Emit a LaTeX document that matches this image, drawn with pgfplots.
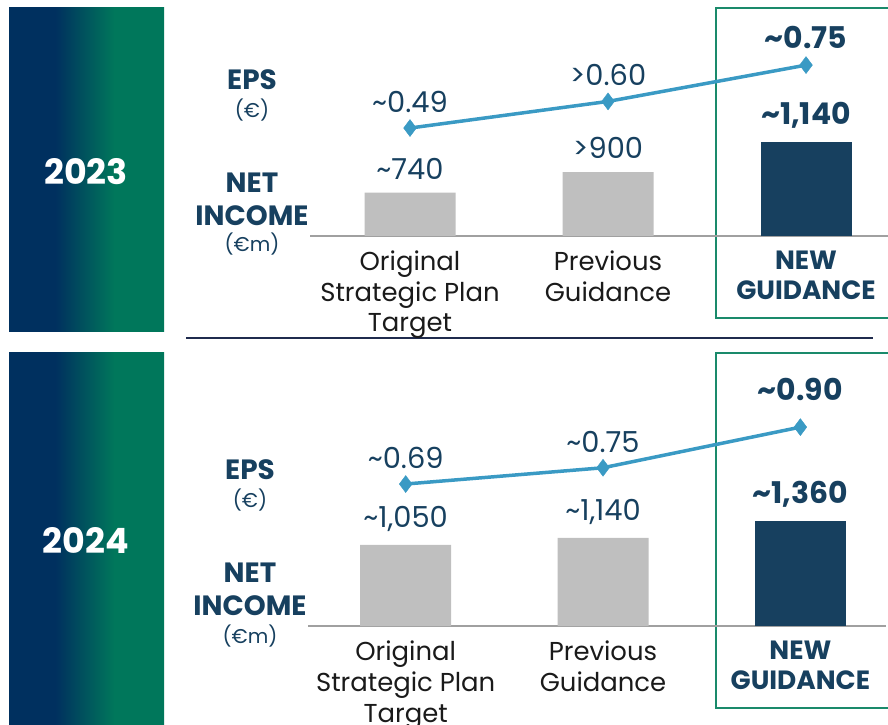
\documentclass[border=0pt]{standalone}
\usepackage{fontspec}
\setmainfont{Poppins}
\usepackage{pgfplots}
\pgfplotsset{compat=1.18}

\definecolor{navy}{HTML}{17405F}
\definecolor{barGray}{HTML}{BFBFBF}
\definecolor{epsBlue}{HTML}{3A9AC4}
\definecolor{frameGreen}{HTML}{1A8A6B}
\definecolor{gradBlue}{HTML}{00305F}
\definecolor{gradGreen}{HTML}{00775B}
\definecolor{sepNavy}{HTML}{1F2B4D}
\definecolor{axGray}{HTML}{A0A0A0}
\definecolor{txt}{HTML}{1A1A1A}

\pgfdeclarehorizontalshading{yeargrad}{100bp}{color(0bp)=(gradBlue); color(40bp)=(gradBlue); color(59bp)=(gradGreen); color(100bp)=(gradGreen)}

\newcommand\newguid[1]{{\fontsize{26.5}{31}\selectfont\bfseries\color{navy}#1}}

\pgfplotsset{
  barpanel/.style={
    anchor=south west, width=578bp, height=220bp, scale only axis,
    axis x line=bottom, axis y line=none,
    x axis line style={axGray, line width=1.5bp, -},
    xtick={0,1,2},
    xticklabels={Original\\Strategic Plan\\Target, Previous\\Guidance, \newguid{NEW}\\\newguid{GUIDANCE}},
    major tick length=0pt,
    xticklabel style={font=\fontsize{26}{31}\selectfont, align=center, text=txt, yshift=-11bp},
    ybar, bar width=91bp,
    point meta=explicit symbolic,
    nodes near coords,
    every node near coord/.append style={font=\fontsize{29}{32}\selectfont, text=navy, anchor=south, yshift=10bp},
  },
  epspanel/.style={
    anchor=south west, width=578bp, height=220bp, scale only axis,
    hide axis, clip=false,
  },
  epsline/.style={
    epsBlue, line width=3.5bp, mark=diamond*, mark size=8.5bp,
    mark options={solid, fill=epsBlue, line width=0.4bp},
    point meta=explicit symbolic, nodes near coords,
    every node near coord/.append style={font=\fontsize{29}{32}\selectfont, text=navy, anchor=south, yshift=12bp},
  },
}

\begin{document}
\begin{tikzpicture}
\path[use as bounding box] (0bp,0bp) rectangle (888bp,725bp);

% year boxes
\shade[shading=yeargrad] (9bp,393bp) rectangle (164bp,717bp);
\shade[shading=yeargrad] (9bp,0bp) rectangle (164bp,372bp);
\node[text=white, font=\fontsize{35}{40}\selectfont\bfseries] at (86bp,553bp) {2023};
\node[text=white, font=\fontsize{35}{40}\selectfont\bfseries] at (86bp,185bp) {2024};

% side labels
\begin{scope}[every node/.style={text=navy}]
\node[font=\fontsize{28}{32}\selectfont\bfseries] at (252bp,645bp) {EPS};
\node[font=\fontsize{20}{22}\selectfont] at (252bp,615bp) {(€)};
\node[font=\fontsize{28}{32}\selectfont\bfseries] at (252bp,542bp) {NET};
\node[font=\fontsize{28}{32}\selectfont\bfseries] at (252bp,509bp) {INCOME};
\node[font=\fontsize{20}{22}\selectfont] at (252bp,481bp) {(€m)};
\node[font=\fontsize{28}{32}\selectfont\bfseries] at (250bp,255bp) {EPS};
\node[font=\fontsize{20}{22}\selectfont] at (250bp,225bp) {(€)};
\node[font=\fontsize{28}{32}\selectfont\bfseries] at (250bp,152bp) {NET};
\node[font=\fontsize{28}{32}\selectfont\bfseries] at (250bp,119bp) {INCOME};
\node[font=\fontsize{20}{22}\selectfont] at (250bp,89bp) {(€m)};
\end{scope}

% separator and guidance frames
\draw[sepNavy, line width=2.5bp] (186bp,387bp) -- (873bp,387bp);
\draw[frameGreen, line width=2bp] (892bp,717bp) -- (716bp,717bp) -- (716bp,407bp) -- (892bp,407bp);
\draw[frameGreen, line width=2bp] (892bp,372bp) -- (716bp,372bp) -- (716bp,17bp) -- (892bp,17bp);

% ---- 2023 ----
\begin{axis}[barpanel, at={(310bp,489bp)},
  xmin=-0.505, xmax=2.414, ymin=400, ymax=2125]
  \addplot[fill=barGray, draw=none, bar shift=0pt] coordinates {
    (0,740) [{\textasciitilde740}]
    (1,900) [{>900}]
  };
  \addplot[fill=navy, draw=none, bar shift=0pt,
    every node near coord/.append style={font=\fontsize{30}{32}\selectfont\bfseries}] coordinates {
    (2,1140) [{\textasciitilde1,140}]
  };
\end{axis}
\begin{axis}[epspanel, at={(310bp,489bp)},
  xmin=-0.505, xmax=2.414, ymin=0.044, ymax=0.953]
  \addplot[epsline] coordinates {
    (0,0.49) [{\textasciitilde0.49}]
    (1,0.60) [{>0.60}]
    (2,0.75) [{\raisebox{1bp}{\fontsize{30}{32}\selectfont\bfseries\textasciitilde0.75}}]
  };
\end{axis}

% ---- 2024 ----
\begin{axis}[barpanel, at={(308bp,99bp)},
  xmin=-0.495, xmax=2.434, ymin=0, ymax=2846]
  \addplot[fill=barGray, draw=none, bar shift=0pt] coordinates {
    (0,1050) [{\textasciitilde1,050}]
    (1,1140) [{\textasciitilde1,140}]
  };
  \addplot[fill=navy, draw=none, bar shift=0pt,
    every node near coord/.append style={font=\fontsize{30}{32}\selectfont\bfseries}] coordinates {
    (2,1360) [{\textasciitilde1,360}]
  };
\end{axis}
\begin{axis}[epspanel, at={(308bp,99bp)},
  xmin=-0.495, xmax=2.434, ymin=0.166, ymax=0.978]
  \addplot[epsline] coordinates {
    (0,0.69) [{\textasciitilde0.69}]
    (1,0.75) [{\textasciitilde0.75}]
    (2,0.90) [{\raisebox{11bp}{\fontsize{30}{32}\selectfont\bfseries\textasciitilde0.90}}]
  };
\end{axis}
\end{tikzpicture}
\end{document}
